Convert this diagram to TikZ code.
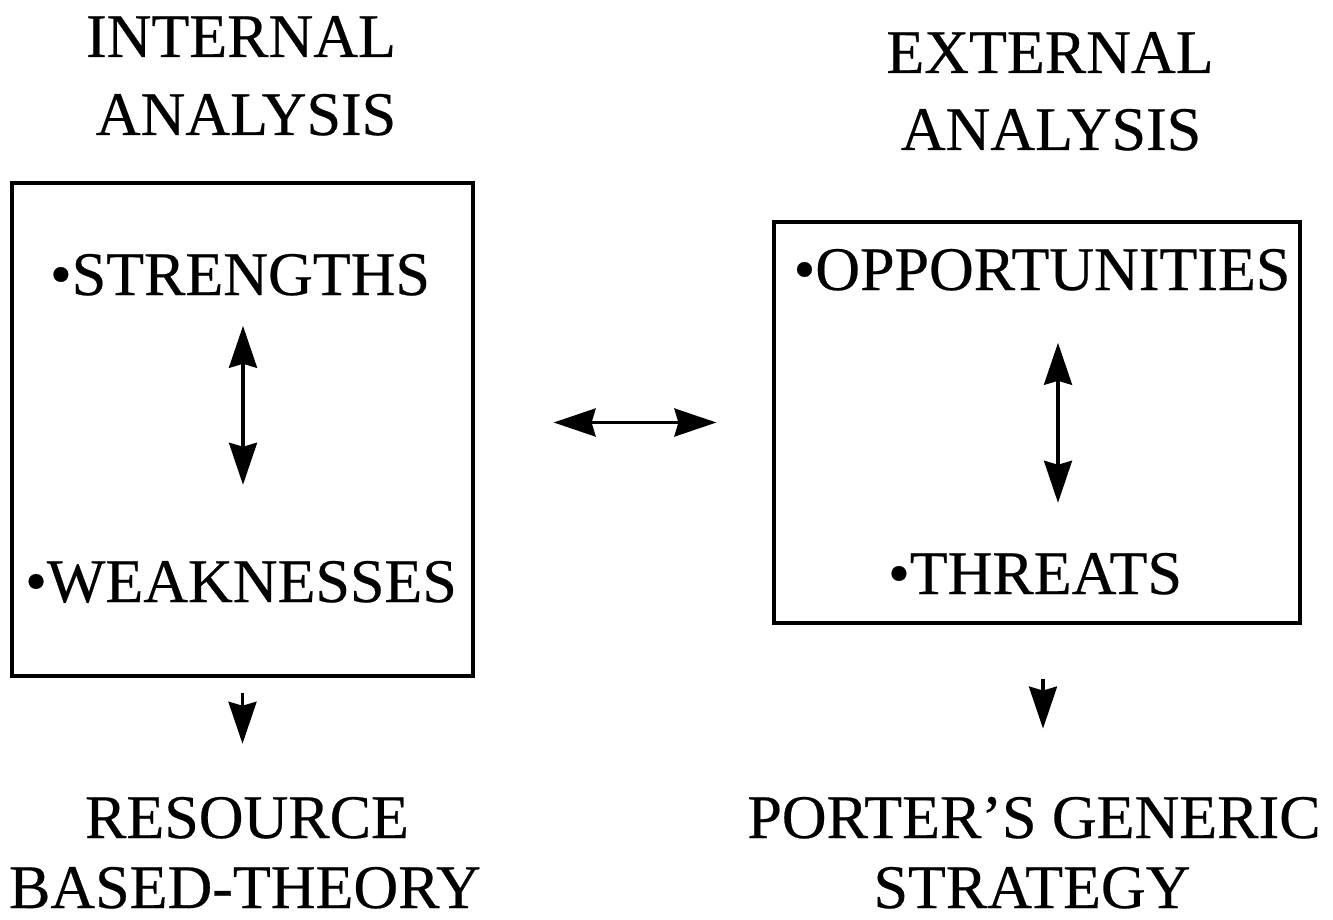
\documentclass[tikz,border=0pt]{standalone}
\usepackage{fontspec}
\setmainfont[FakeBold=0.4]{Liberation Serif}
\usetikzlibrary{arrows.meta,calc}
\begin{document}
\begin{tikzpicture}[x=1pt,y=-1pt,
  >={Stealth[length=42pt,width=28pt,inset=4pt]},
  txt/.style={anchor=base,inner sep=0pt,font=\fontsize{62}{70}\selectfont},
  panel/.style={draw,line width=3.2pt,inner sep=0pt},
  link/.style={line width=3.2pt,<->},
  down/.style={line width=3.2pt,->}]
\useasboundingbox (0,0) rectangle (1333,920);

% headings
\node[txt] (int1) at (241,57) {INTERNAL};
\node[txt] (int2) at (246,135) {ANALYSIS};
\node[txt] (ext1) at (1050,73) {EXTERNAL};
\node[txt] (ext2) at (1051,150) {ANALYSIS};

% boxes
\node[panel,minimum width=461pt,minimum height=493pt] (lbox) at (242.5,429.5) {};
\node[panel,minimum width=526pt,minimum height=401pt] (rbox) at (1037,422.5) {};

% box contents
\node[txt] (str) at (240,295) {•STRENGTHS};
\node[txt] (weak) at (241,602) {•WEAKNESSES};
\node[txt] (opp) at (1042,290) {•OPPORTUNITIES};
\node[txt] (thr) at (1035,594) {•THREATS};

% outcomes
\node[txt] (res1) at (247,838) {RESOURCE};
\node[txt] (res2) at (245,908) {BASED-THEORY};
\node[txt] (por1) at (1034,838) {PORTER’S GENERIC};
\node[txt] (por2) at (1032,908) {STRATEGY};

% anchor points for the outgoing arrows
\coordinate (lout) at (lbox.south);
\coordinate (lin) at (lbox.south |- res1.north);
\coordinate (rout) at ([xshift=6pt]rbox.south);
\coordinate (rin) at (rout |- por1.north);

% connectors
\draw[link,shorten <=30pt,shorten >=76pt] ([xshift=3pt]str.south) -- ([xshift=2pt]weak.north);
\draw[link,shorten <=52pt,shorten >=50pt] ([xshift=16pt]opp.south) -- ([xshift=23pt]thr.north);
\draw[link,shorten <=79pt,shorten >=56pt] (lbox.east |- rbox.west) -- (rbox.west);
\draw[down,shorten <=15pt,shorten >=53pt] (lout) -- (lin);
\draw[down,shorten <=54pt,shorten >=68pt] (rout) -- (rin);
\end{tikzpicture}
\end{document}
